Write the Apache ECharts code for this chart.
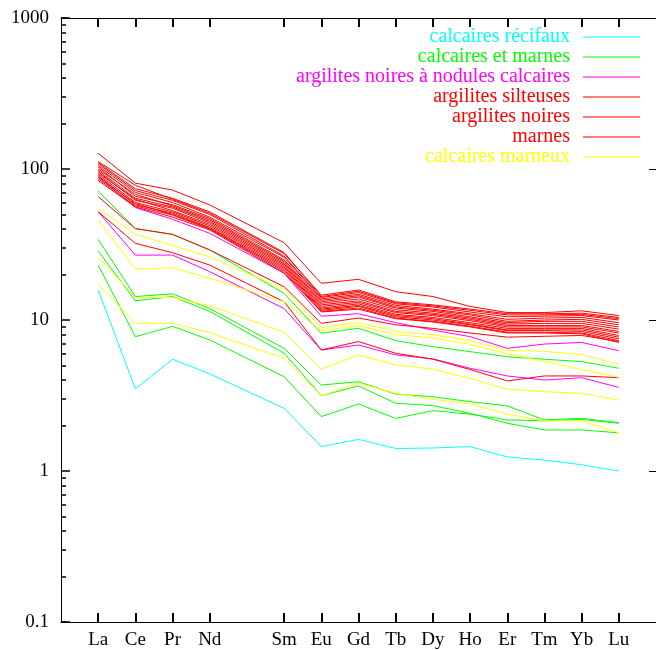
<!DOCTYPE html>
<html>
<head>
<meta charset="utf-8">
<script src="https://cdn.jsdelivr.net/npm/echarts@6/dist/echarts.min.js"></script>
<style>
html, body { margin: 0; padding: 0; background: #fff; }
#chart { width: 656px; height: 650px; }
</style>
</head>
<body>
<div id="chart"></div>
<script>
// terres rares, Pm absent (position 5 vide)
const elements = ['La', 'Ce', 'Pr', 'Nd', 'Sm', 'Eu', 'Gd', 'Tb', 'Dy', 'Ho', 'Er', 'Tm', 'Yb', 'Lu'];
const elementPos = [1, 2, 3, 4, 6, 7, 8, 9, 10, 11, 12, 13, 14, 15];
const slotCount = 17;

const recifaux = [
  [15.8, 3.5, 5.5, 4.4, 2.6, 1.45, 1.62, 1.41, 1.42, 1.45, 1.24, 1.18, 1.10, 1.0]
];
const calcairesEtMarnes = [
  [71.5, 40.3, 36.9, 29.1, 15.0, 8.17, 8.81, 7.3, 6.66, 6.17, 5.71, 5.5, 5.30, 4.79],
  [34.2, 14.3, 14.9, 11.9, 6.49, 3.71, 3.90, 3.23, 3.10, 2.88, 2.70, 2.18, 2.23, 2.09],
  [28.6, 13.4, 14.3, 11.4, 6.02, 3.15, 3.66, 2.81, 2.71, 2.41, 2.07, 1.87, 1.87, 1.79],
  [23.1, 7.75, 9.08, 7.37, 4.21, 2.29, 2.78, 2.23, 2.51, 2.38, 2.18, 2.15, 2.20, 2.07]
];
const nodulesCalcaires = [
  [88.9, 55.5, 46.4, 37.5, 20.4, 10.6, 11.0, 9.6, 8.58, 7.76, 6.49, 6.93, 7.1, 6.26],
  [52.1, 26.9, 26.9, 20.9, 11.9, 6.33, 6.83, 5.87, 5.53, 4.79, 4.26, 4.0, 4.15, 3.58]
];
const silteuses = [
  [127, 80.6, 72.5, 57.8, 32.5, 17.5, 18.6, 15.4, 14.3, 12.3, 11.2, 11.2, 11.5, 10.7],
  [112, 78, 63, 51, 27.5, 14.6, 15.8, 13.2, 12.6, 11.8, 11.0, 11.0, 11.1, 10.4],
  [108, 72, 62, 50, 26.5, 14.1, 15.2, 12.8, 12.2, 11.3, 10.5, 10.6, 10.7, 10.0],
  [105, 70, 60, 48, 26.0, 13.8, 14.8, 12.5, 11.8, 11.0, 10.1, 10.3, 10.4, 9.6],
  [103, 66, 58, 47, 25.0, 13.5, 14.5, 12.2, 11.6, 10.8, 9.8, 10.0, 10.1, 9.3],
  [100, 68, 57, 46, 24.5, 13.2, 14.2, 12.0, 11.4, 10.5, 9.6, 9.8, 9.8, 9.0]
];
const argilitesNoires = [
  [98, 64, 56, 45, 24.0, 12.9, 13.8, 11.7, 11.1, 10.3, 9.4, 9.5, 9.5, 8.7],
  [96, 62, 55, 44, 23.5, 12.6, 13.4, 11.4, 10.9, 10.1, 9.2, 9.2, 9.2, 8.4],
  [94, 63, 53, 43, 23.0, 12.3, 13.1, 11.2, 10.7, 9.9, 9.0, 9.0, 9.0, 8.2],
  [92, 60, 52, 42, 22.5, 12.0, 12.8, 10.9, 10.4, 9.6, 8.8, 8.8, 8.8, 7.9],
  [90, 58, 51, 41, 22.0, 11.8, 12.5, 10.7, 10.2, 9.4, 8.6, 8.6, 8.6, 7.7],
  [65.6, 40.3, 36.9, 29.1, 16.6, 9.5, 10.3, 9.3, 8.8, 8.2, 7.7, 7.8, 7.9, 7.2]
];
const marnes = [
  [88, 59, 50, 40.5, 21.5, 11.6, 12.3, 10.5, 10.0, 9.3, 8.5, 8.5, 8.4, 7.5],
  [86, 57, 49.5, 40, 21.0, 11.4, 12.0, 10.3, 9.8, 9.1, 8.3, 8.3, 8.2, 7.3],
  [110, 74, 64, 52, 28.0, 14.3, 15.5, 13.0, 12.4, 11.6, 10.8, 10.8, 10.9, 10.2],
  [84, 56, 48, 39.5, 20.5, 11.3, 11.8, 10.2, 9.7, 9.0, 8.2, 8.2, 8.1, 7.1],
  [52.1, 32.2, 27.9, 23.1, 13.2, 6.33, 7.2, 6.02, 5.5, 4.7, 3.95, 4.26, 4.26, 4.15]
];
const calcairesMarneux = [
  [55, 36.9, 31.2, 26.2, 16.0, 8.9, 9.6, 8.4, 8.0, 7.3, 6.3, 6.2, 5.9, 5.1],
  [45.9, 21.8, 22.2, 18.9, 13.2, 8.5, 9.2, 8.0, 7.6, 6.9, 6.0, 5.3, 4.7, 4.17],
  [26.2, 14.1, 14.1, 12.4, 8.3, 4.73, 5.87, 5.04, 4.73, 4.11, 3.48, 3.35, 3.27, 2.95],
  [17.3, 9.5, 9.5, 8.24, 5.57, 3.15, 3.81, 3.27, 2.98, 2.78, 2.38, 2.15, 2.15, 1.79]
];

const groups = [
  { name: 'calcaires récifaux', color: '#00ffff', lines: recifaux },
  { name: 'calcaires et marnes', color: '#00ff00', lines: calcairesEtMarnes },
  { name: 'argilites noires à nodules calcaires', color: '#ff00ff', lines: nodulesCalcaires },
  { name: 'argilites silteuses', color: '#ff0000', lines: silteuses },
  { name: 'argilites noires', color: '#ff0000', lines: argilitesNoires },
  { name: 'marnes', color: '#ff0000', lines: marnes },
  { name: 'calcaires marneux', color: '#ffff00', lines: calcairesMarneux }
];

// multiplicateurs des petites graduations de l'axe log
const minorMultipliers = [2, 3, 4, 5, 6, 7, 8, 9];

const FONT = '"Liberation Serif", "DejaVu Serif", serif';

// cases de l'axe x : une par élément, Pm et les bords restent vides
const slots = [];
for (let i = 0; i < slotCount; i++) {
  const k = elementPos.indexOf(i);
  slots.push(k >= 0 ? elements[k] : (i === 5 ? 'Pm' : ''));
}
const isElementSlot = idx => elementPos.indexOf(idx) >= 0;

let series = [];
groups.forEach(g => {
  g.lines.forEach(vals => {
    series.push({
      name: g.name,
      type: 'line',
      xAxisIndex: 0,
      yAxisIndex: 0,
      symbol: 'none',
      lineStyle: { color: g.color, width: 1 },
      itemStyle: { color: g.color },
      data: vals.map((v, i) => [elementPos[i], v])
    });
  });
});

function catAxis(pos, showLabel) {
  return {
    type: 'category',
    data: slots,
    boundaryGap: false,
    position: pos,
    axisLine: { show: true, onZero: false, lineStyle: { color: '#000' } },
    axisTick: { show: true, inside: true, length: 9, interval: isElementSlot, lineStyle: { color: '#000', width: 2 } },
    axisLabel: {
      show: showLabel,
      interval: isElementSlot,
      fontFamily: FONT,
      fontSize: 19,
      color: '#000',
      margin: 9
    },
    splitLine: { show: false }
  };
}

let yAxes = [
  {
    type: 'log',
    logBase: 10,
    min: 0.1,
    max: 1000,
    position: 'left',
    axisLine: { show: true, onZero: false, lineStyle: { color: '#000' } },
    axisTick: { show: true, inside: true, length: 9, lineStyle: { color: '#000', width: 1.5 } },
    axisLabel: { fontFamily: FONT, fontSize: 19, color: '#000', margin: 12, formatter: v => String(v) },
    splitLine: { show: false }
  },
  {
    type: 'log',
    logBase: 10,
    min: 0.1,
    max: 1000,
    position: 'right',
    axisLine: { show: true, onZero: false, lineStyle: { color: '#000' } },
    axisTick: { show: true, inside: true, length: 7, lineStyle: { color: '#000' } },
    axisLabel: { show: false },
    splitLine: { show: false }
  }
];
// axes log décalés d'un facteur m : leurs graduations tombent sur m·10^k
minorMultipliers.forEach(m => {
  yAxes.push({
    type: 'log',
    logBase: 10,
    min: 0.1 / m,
    max: 1000 / m,
    position: 'left',
    axisLine: { show: true, onZero: false, lineStyle: { color: '#000' } },
    axisTick: { show: true, inside: true, length: 5, lineStyle: { color: '#000', width: 1.5 } },
    axisLabel: { show: false },
    splitLine: { show: false }
  });
});

let myChart = echarts.init(document.getElementById('chart'));
myChart.setOption({
  animation: false,
  grid: { left: 61, right: -5, top: 18, bottom: 28 },
  legend: {
    orient: 'vertical',
    right: 16,
    top: 27,
    align: 'right',
    icon: 'rect',
    itemWidth: 57,
    itemHeight: 1,
    itemGap: 0,
    padding: 0,
    selectedMode: false,
    data: groups.map(g => ({ name: g.name, textStyle: { color: g.color } })),
    textStyle: { fontFamily: FONT, fontSize: 20, lineHeight: 20, padding: [0, 8, 0, 0] }
  },
  xAxis: [catAxis('bottom', true), catAxis('top', false)],
  yAxis: yAxes,
  series: series
});
</script>
</body>
</html>
